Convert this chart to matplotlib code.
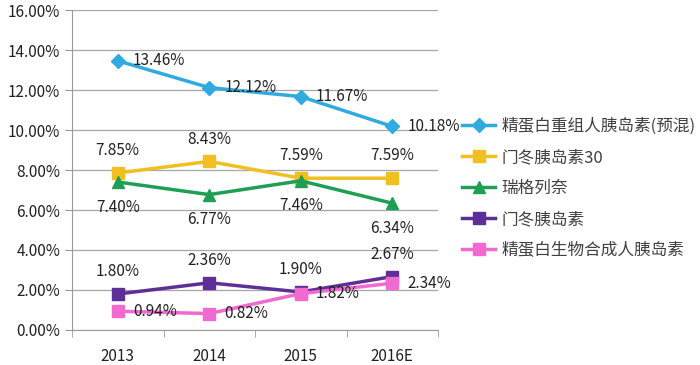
import matplotlib
matplotlib.use("Agg")
import matplotlib.pyplot as plt
from matplotlib.ticker import FuncFormatter, FixedLocator

plt.rcParams['font.family'] = ['Noto Sans CJK SC', 'DejaVu Sans']

years = ["2013", "2014", "2015", "2016E"]
names = ["精蛋白重组人胰岛素(预混)", "门冬胰岛素30", "瑞格列奈", "门冬胰岛素", "精蛋白生物合成人胰岛素"]
premix = [13.46, 12.12, 11.67, 10.18]
aspart30 = [7.85, 8.43, 7.59, 7.59]
repaglinide = [7.40, 6.77, 7.46, 6.34]
aspart = [1.80, 2.36, 1.90, 2.67]
biosyn = [0.94, 0.82, 1.82, 2.34]

series = [premix, aspart30, repaglinide, aspart, biosyn]
colors = ["#30AADF", "#F0C020", "#1F9E55", "#5E2F96", "#F06ACF"]
markers = ["D", "s", "^", "s", "s"]
msizes = [7, 9, 8, 9, 9]
# label placement: (dx pts, dy pts, ha, va)
placement = [(11, 0, "left", "center"), (0, 10, "center", "bottom"),
             (0, -12, "center", "top"), (0, 10, "center", "bottom"),
             (11, 0, "left", "center")]

fig = plt.figure(figsize=(7, 3.65), dpi=100)
ax = fig.add_axes([72 / 700, 35 / 365, 366 / 700, 320 / 365])

x = list(range(len(years)))
for vals, name, c, m, ms, (dx, dy, ha, va) in zip(series, names, colors, markers, msizes, placement):
    ax.plot(x, vals, color=c, lw=2.5, marker=m, ms=ms, label=name, zorder=3)
    for xi, v in zip(x, vals):
        ax.annotate(f"{v:.2f}%", (xi, v), xytext=(dx, dy), textcoords="offset points",
                    ha=ha, va=va, fontsize=11, color="#222222", zorder=4)

ax.set_xlim(-0.5, 3.5)
ax.set_ylim(0, 16)
ax.set_yticks(range(0, 17, 2))
ax.yaxis.set_major_formatter(FuncFormatter(lambda v, p: f"{v:.2f}%"))
ax.set_xticks(x)
ax.set_xticklabels(years)
ax.xaxis.set_minor_locator(FixedLocator([-0.5, 0.5, 1.5, 2.5, 3.5]))
ax.tick_params(axis="x", which="major", length=0, pad=13, labelsize=11, colors="#222222")
ax.tick_params(axis="x", which="minor", length=5, color="#999999")
ax.tick_params(axis="y", length=5, color="#999999", labelsize=11, colors="#222222")
ax.grid(axis="y", color="#A6A6A6", lw=0.9)
ax.set_axisbelow(True)
for s in ["top", "right"]:
    ax.spines[s].set_visible(False)
for s in ["left", "bottom"]:
    ax.spines[s].set_color("#999999")

leg = fig.legend(loc="upper left", bbox_to_anchor=(462 / 700, 1 - 118 / 365), frameon=False,
                 fontsize=12, labelspacing=0.84, handlelength=2.0, handletextpad=0.35,
                 borderaxespad=0, borderpad=0)
for t in leg.get_texts():
    t.set_color("#404040")

fig.savefig("out.png", dpi=100)
